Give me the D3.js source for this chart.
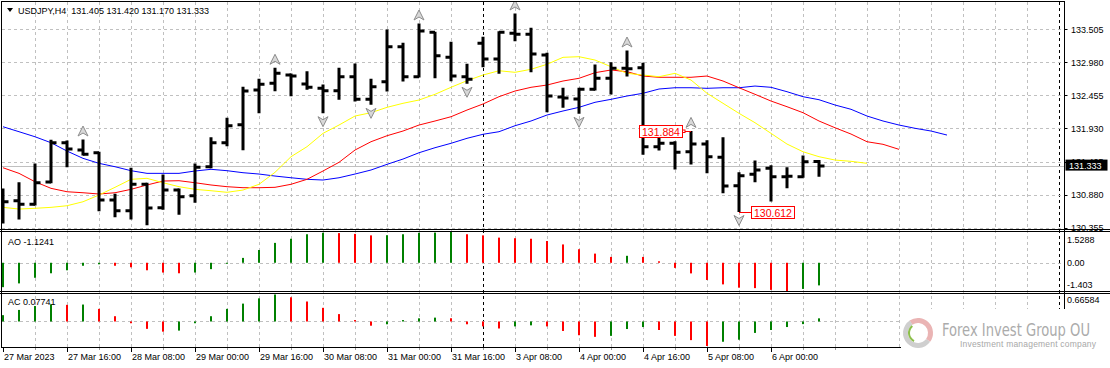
<!DOCTYPE html>
<html>
<head>
<meta charset="utf-8">
<script src="https://cdn.jsdelivr.net/npm/d3@7"></script>
<style>
  body { margin: 0; background: #fff; }
  svg { display: block; }
  text { font-family: "Liberation Sans", Arial, sans-serif; }
</style>
</head>
<body>
<div id="chart"></div>
<script>
// USDJPY H4 bars (27 Mar 2023 00:00 .. 6 Apr 2023 12:00)
const open  = [130.715,130.784,130.726,131.080,131.704,131.588,131.546,130.795,130.625,131.044,130.672,130.953,130.863,131.323,131.704,131.990,132.541,132.648,132.779,132.636,132.568,132.530,132.752,132.394,132.673,133.229,132.752,133.457,133.060,132.752,133.283,133.033,133.441,133.426,133.097,132.430,132.398,132.552,132.727,132.886,132.895,131.641,131.695,131.562,131.684,131.473,131.022,131.203,131.298,131.165,131.165,131.405];
const high  = [130.969,131.069,131.366,131.743,131.731,131.747,131.552,130.885,131.298,131.060,131.192,130.969,131.366,131.784,132.092,132.584,132.711,132.886,132.795,132.832,132.621,132.886,132.954,132.711,133.494,133.283,133.589,133.460,133.299,132.949,133.378,133.467,133.748,133.521,133.124,132.568,132.568,132.938,132.975,133.160,132.965,131.811,131.720,131.884,131.736,131.784,131.228,131.414,131.339,131.307,131.493,131.420];
const low   = [130.429,130.493,130.715,131.069,131.323,131.509,130.625,130.529,130.493,130.402,130.647,130.568,130.758,131.307,131.657,131.593,132.181,132.530,132.451,132.552,132.181,132.394,132.367,132.314,132.525,132.684,132.748,132.736,132.689,132.648,132.911,132.806,133.324,132.832,132.197,132.266,132.171,132.541,132.478,132.763,131.520,131.588,131.287,131.366,131.228,130.911,130.612,131.085,130.779,130.990,131.155,131.170];
const close = [130.768,130.726,131.069,131.704,131.604,131.520,130.795,130.625,131.044,130.668,130.953,130.847,131.314,131.704,131.974,132.525,132.632,132.806,132.763,132.584,132.530,132.752,132.394,132.594,133.229,132.752,133.478,133.086,132.763,132.711,133.033,133.457,133.426,133.113,132.446,132.414,132.552,132.727,132.886,132.880,131.641,131.695,131.552,131.684,131.482,131.017,131.180,131.271,131.165,131.170,131.403,131.333];

// Alligator lines (already shifted forward)
const jaw   = [131.958,131.879,131.799,131.704,131.572,131.456,131.377,131.323,131.260,131.218,131.218,131.218,131.255,131.282,131.260,131.228,131.207,131.175,131.148,131.123,131.112,131.148,131.207,131.271,131.361,131.445,131.545,131.625,131.695,131.774,131.838,131.879,131.974,132.049,132.144,132.208,132.266,132.346,132.393,132.446,132.489,132.557,132.577,132.577,132.568,132.577,132.577,132.604,132.584,132.514,132.435,132.387,132.303,132.235,132.128,132.049,131.985,131.933,131.890,131.826];
const teeth = [131.307,131.218,131.085,130.980,130.926,130.910,130.890,130.910,130.964,131.033,131.096,131.101,131.069,131.033,131.006,130.990,130.990,130.996,131.044,131.123,131.255,131.393,131.588,131.720,131.815,131.890,131.985,132.049,132.117,132.223,132.319,132.435,132.525,132.584,132.620,132.684,132.727,132.816,132.859,132.832,132.763,132.743,132.743,132.743,132.763,132.684,132.577,132.473,132.366,132.276,132.181,132.049,131.942,131.842,131.720,131.679,131.599];
const lips  = [130.678,130.651,130.663,130.678,130.704,130.767,130.874,130.996,131.123,131.139,131.069,131.006,130.964,130.942,130.917,130.953,131.044,131.234,131.482,131.641,131.853,131.985,132.128,132.181,132.266,132.330,132.382,132.473,132.584,132.689,132.779,132.847,132.822,132.870,132.949,133.060,133.070,133.017,132.911,132.806,132.779,132.752,132.806,132.700,132.489,132.330,132.171,132.022,131.853,131.683,131.561,131.482,131.429,131.409,131.377];

// Awesome / Accelerator oscillators
const ao = [-1.212,-1.025,-0.746,-0.522,-0.373,-0.149,-0.075,-0.149,-0.224,-0.373,-0.485,-0.522,-0.485,-0.317,-0.037,0.242,0.634,0.988,1.193,1.417,1.491,1.473,1.435,1.361,1.370,1.417,1.491,1.500,1.5288,1.417,1.361,1.249,1.220,1.193,1.081,0.911,0.673,0.455,0.291,0.346,0.290,0.073,-0.255,-0.528,-0.855,-1.074,-1.238,-1.260,-1.347,-1.403,-1.300,-1.1241];
const ac = [0.156,0.285,0.381,0.424,0.410,0.418,0.311,0.130,-0.043,-0.182,-0.251,-0.225,-0.043,0.130,0.311,0.441,0.571,0.66584,0.597,0.493,0.337,0.182,0.035,-0.104,-0.069,0.035,0.078,0.095,0.080,-0.069,-0.121,-0.173,-0.121,-0.095,-0.121,-0.234,-0.339,-0.379,-0.355,-0.186,-0.137,-0.210,-0.355,-0.460,-0.605,-0.500,-0.450,-0.282,-0.210,-0.137,-0.065,0.07741];

const fractalUp = [5, 17, 26, 32, 39, 43];
const fractalDown = [9, 20, 23, 29, 36, 46];
const markBars = [43, 46];
const markPrices = [131.884, 130.612];

const priceTicks = [133.505, 132.980, 132.455, 131.930, 131.405, 130.880, 130.355];
const timeTickBars = [0, 4, 8, 12, 16, 20, 24, 28, 32, 36, 40, 44, 48];
const timeLabels = ["27 Mar 2023", "27 Mar 16:00", "28 Mar 08:00", "29 Mar 00:00", "29 Mar 16:00", "30 Mar 08:00",
  "31 Mar 00:00", "31 Mar 16:00", "3 Apr 08:00", "4 Apr 00:00", "4 Apr 16:00", "5 Apr 08:00", "6 Apr 00:00"];
const bidPrice = 131.333;

const W = 1110, H = 368;
const left = 2, right = 1064.5;
const mainP = { top: 2, bottom: 229.5 };
const aoP = { top: 231.5, bottom: 291.5 };
const acP = { top: 293.5, bottom: 347 };
const green = "#008000", red = "#ff0000", gridCol = "#c0c0c0";

const svg = d3.select("#chart").append("svg").attr("width", W).attr("height", H);

const x = d3.scaleLinear().domain([0, 66]).range([3, 1059]);
const y = d3.scaleLinear().domain([130.355, 133.505]).range([227.7, 29.3]);
const yAO = d3.scaleLinear().domain(d3.extent(ao)).range([aoP.bottom - 0.5, aoP.top + 0.5]);
const yAC = d3.scaleLinear().domain(d3.extent(ac)).range([acP.bottom - 1, acP.top + 1]);

// clip for main panel
const defs = svg.append("defs");
defs.append("clipPath").attr("id", "clipMain").append("rect")
  .attr("x", left).attr("y", mainP.top).attr("width", right - left).attr("height", mainP.bottom - mainP.top);
defs.append("clipPath").attr("id", "clipSub").append("rect")
  .attr("x", left).attr("y", aoP.top).attr("width", right - left).attr("height", acP.bottom - aoP.top);

// vertical grid
const gridBars = d3.range(2, 67, 2);
svg.append("g").selectAll("line").data(gridBars).join("line")
  .attr("x1", d => x(d) + 0.5).attr("x2", d => x(d) + 0.5)
  .attr("y1", mainP.top).attr("y2", acP.bottom)
  .attr("stroke", d => (d === 30 || d === 66) ? "#000" : gridCol)
  .attr("stroke-dasharray", "3,3");

// horizontal grid
svg.append("g").selectAll("line").data(priceTicks).join("line")
  .attr("x1", left).attr("x2", right)
  .attr("y1", d => Math.round(y(d)) + 0.5).attr("y2", d => Math.round(y(d)) + 0.5)
  .attr("stroke", gridCol).attr("stroke-dasharray", "3,3");
[[yAO, 0], [yAC, 0]].forEach(([s, v]) => {
  svg.append("line").attr("x1", left).attr("x2", right)
    .attr("y1", Math.round(s(v)) + 0.5).attr("y2", Math.round(s(v)) + 0.5)
    .attr("stroke", gridCol).attr("stroke-dasharray", "3,3");
});

// bid line
svg.append("line").attr("x1", left).attr("x2", right)
  .attr("y1", Math.round(y(bidPrice)) + 0.5).attr("y2", Math.round(y(bidPrice)) + 0.5)
  .attr("stroke", gridCol);

// alligator
const gMain = svg.append("g").attr("clip-path", "url(#clipMain)");
const line = d3.line().x((d, i) => x(i)).y(d => y(d));
[[jaw, "#0000ff"], [teeth, "#ff0000"], [lips, "#ffff00"]].forEach(([s, c]) => {
  gMain.append("path").attr("d", line(s)).attr("fill", "none").attr("stroke", c).attr("stroke-width", 1);
});

// OHLC bars
const idx = d3.range(open.length);
const gBars = gMain.append("g").attr("stroke", "#000").attr("stroke-width", 3);
gBars.selectAll(".hl").data(idx).join("line")
  .attr("x1", i => x(i)).attr("x2", i => x(i))
  .attr("y1", i => y(high[i]) - 0.5).attr("y2", i => y(low[i]) + 0.5);
gBars.selectAll(".o").data(idx).join("line")
  .attr("x1", i => x(i) - 5.5).attr("x2", i => x(i))
  .attr("y1", i => y(open[i])).attr("y2", i => y(open[i]));
gBars.selectAll(".c").data(idx).join("line")
  .attr("x1", i => x(i)).attr("x2", i => x(i) + 5.5)
  .attr("y1", i => y(close[i])).attr("y2", i => y(close[i]));

// fractals
gMain.selectAll(".fu").data(fractalUp).join("path")
  .attr("transform", i => `translate(${x(i)},${y(high[i]) - 9})`)
  .attr("d", "M0,-5L5,5L0,2L-5,5Z").attr("fill", "#d8d8d8").attr("stroke", "#8c8c8c");
gMain.selectAll(".fd").data(fractalDown).join("path")
  .attr("transform", i => `translate(${x(i)},${y(low[i]) + 9})`)
  .attr("d", "M0,5L5,-5L0,-2L-5,-5Z").attr("fill", "#d8d8d8").attr("stroke", "#8c8c8c");

// price marks
markBars.forEach((b, k) => {
  const py = Math.round(y(markPrices[k])) + 0.5;
  const g = gMain.append("g");
  const bx = x(b);
  const w = 43, h = 12;
  let rx;
  if (k === 0) {
    rx = bx - 52;
    g.append("line").attr("x1", bx - 7).attr("x2", bx).attr("y1", py).attr("y2", py).attr("stroke", red);
    g.append("rect").attr("x", bx - 8.5).attr("y", py - 1.5).attr("width", 2.5).attr("height", 2.5)
      .attr("fill", "#fff").attr("stroke", red);
  } else {
    rx = bx + 12;
    g.append("line").attr("x1", bx).attr("x2", rx).attr("y1", py).attr("y2", py).attr("stroke", red);
  }
  g.append("rect").attr("x", rx + 0.5).attr("y", py - h / 2).attr("width", w).attr("height", h)
    .attr("fill", "#fff").attr("stroke", red);
  g.append("text").attr("x", rx + 3).attr("y", py + 4).attr("font-size", 10.5).attr("fill", red)
    .text(markPrices[k].toFixed(3));
});

// AO / AC histograms
const gSub = svg.append("g").attr("clip-path", "url(#clipSub)");
function hist(vals, s) {
  gSub.append("g").selectAll("rect").data(vals).join("rect")
    .attr("x", (d, i) => x(i) - 1).attr("width", 2)
    .attr("y", d => Math.min(s(d), s(0)))
    .attr("height", d => Math.max(1, Math.abs(s(d) - s(0))))
    .attr("fill", (d, i) => (i === 0 || d > vals[i - 1]) ? green : red);
}
hist(ao, yAO);
hist(ac, yAC);

// frames
const frame = svg.append("g").attr("stroke", "#000").attr("fill", "none");
frame.append("line").attr("x1", left).attr("x2", right).attr("y1", mainP.top - 0.5).attr("y2", mainP.top - 0.5);
[mainP.bottom, aoP.top, aoP.bottom, acP.top].forEach(v => {
  frame.append("line").attr("x1", 0).attr("x2", W).attr("y1", v).attr("y2", v);
});
frame.append("line").attr("x1", left - 0.5).attr("x2", left - 0.5).attr("y1", mainP.top - 1).attr("y2", acP.bottom);
frame.append("line").attr("x1", right).attr("x2", right).attr("y1", mainP.top - 1).attr("y2", acP.bottom);
frame.append("line").attr("x1", left - 1).attr("x2", right).attr("y1", acP.bottom + 0.5).attr("y2", acP.bottom + 0.5);

// price axis
const ax = svg.append("g").attr("font-size", 9).attr("fill", "#000");
priceTicks.forEach(p => {
  ax.append("line").attr("x1", right).attr("x2", right + 3).attr("y1", Math.round(y(p)) + 0.5).attr("y2", Math.round(y(p)) + 0.5).attr("stroke", "#000");
  ax.append("text").attr("x", 1071).attr("y", y(p) + 3.5).text(p.toFixed(3));
});
// bid label
svg.append("rect").attr("x", right + 1).attr("y", y(bidPrice) - 6.5).attr("width", 42).attr("height", 11).attr("fill", "#000");
svg.append("text").attr("x", 1069).attr("y", y(bidPrice) + 3).attr("font-size", 9).attr("fill", "#fff").text(bidPrice.toFixed(3));

// sub-window scales
const aoMax = d3.max(ao), aoMin = d3.min(ao), acMax = d3.max(ac);
ax.append("text").attr("x", 1067).attr("y", aoP.top + 11).text(aoMax.toFixed(4));
ax.append("text").attr("x", 1067).attr("y", yAO(0) + 3.5).text("0.00");
ax.append("text").attr("x", 1067).attr("y", aoP.bottom - 4).text(aoMin.toFixed(3));
ax.append("text").attr("x", 1067).attr("y", acP.top + 9).text(acMax.toFixed(5));

// time axis
const tx = svg.append("g").attr("font-size", 9).attr("fill", "#000");
d3.range(0, 54, 2).forEach(b => {
  const major = timeTickBars.includes(b);
  tx.append("line").attr("x1", x(b) + 0.5).attr("x2", x(b) + 0.5)
    .attr("y1", acP.bottom + 1).attr("y2", acP.bottom + (major ? 5 : 3)).attr("stroke", major ? "#000" : "#999");
});
timeTickBars.forEach((b, k) => {
  tx.append("text").attr("x", x(b) + 1).attr("y", 360).text(timeLabels[k]);
});

// header and indicator labels
svg.append("path").attr("d", "M7,8L13,8L10,12Z").attr("fill", "#000");
svg.append("text").attr("x", 18).attr("y", 14).attr("font-size", 9).attr("fill", "#000")
  .attr("xml:space", "preserve")
  .text(`USDJPY,H4  ${open[51].toFixed(3)} ${high[51].toFixed(3)} ${low[51].toFixed(3)} ${close[51].toFixed(3)}`);
svg.append("text").attr("x", 8).attr("y", 245).attr("font-size", 9).text(`AO ${ao[ao.length - 1].toFixed(4)}`);
svg.append("text").attr("x", 8).attr("y", 305).attr("font-size", 9).text(`AC ${ac[ac.length - 1].toFixed(5)}`);

// logo overlay
const logo = svg.append("g");
logo.append("rect").attr("x", 901).attr("y", 309).attr("width", W - 901).attr("height", H - 309).attr("fill", "#fff");
const ring = d3.arc().innerRadius(10).outerRadius(15);
const lg = logo.append("g").attr("transform", "translate(918,333)");
lg.append("path").attr("d", ring({ startAngle: -0.6, endAngle: 2.2 })).attr("fill", "#eab4b4");
lg.append("path").attr("d", ring({ startAngle: 2.2, endAngle: 5.7 })).attr("fill", "#cfcfcf");
lg.append("path").attr("d", d3.arc().innerRadius(8).outerRadius(10)({ startAngle: 3.6, endAngle: 5.6 })).attr("fill", "#8cbf4a");
logo.append("text").attr("x", 942).attr("y", 336).attr("font-size", 18).attr("fill", "#ababab")
  .attr("textLength", 148).attr("lengthAdjust", "spacingAndGlyphs")
  .style("font-family", "'Liberation Sans Narrow','DejaVu Sans Condensed',sans-serif")
  .text("Forex Invest Group OU");
logo.append("text").attr("x", 960).attr("y", 347).attr("font-size", 8.5).attr("fill", "#a8a8a8")
  .attr("textLength", 136).attr("lengthAdjust", "spacing")
  .text("Investment management company");
</script>
</body>
</html>
